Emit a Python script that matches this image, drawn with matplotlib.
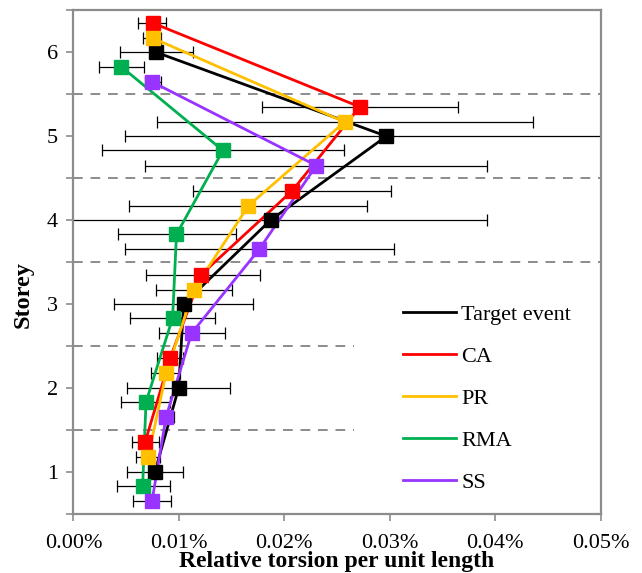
import matplotlib
matplotlib.use("Agg")
import matplotlib.pyplot as plt
from matplotlib.ticker import FuncFormatter, MultipleLocator

# Relative torsion per unit length (in %) per storey, with lower/upper bounds
storeys = [1, 2, 3, 4, 5, 6]
series_names = ["Target event", "CA", "PR", "RMA", "SS"]

target_mean = [0.00774, 0.00999, 0.01046, 0.01871, 0.02969, 0.00787]
target_low = [0.00505, 0.00508, 0.00382, -0.0008, 0.00491, 0.00443]
target_high = [0.01040, 0.01486, 0.01708, 0.03926, 0.0520, 0.01135]

ca_mean = [0.00680, 0.00917, 0.01213, 0.02076, 0.02716, 0.00753]
ca_low = [0.00553, 0.00790, 0.00692, 0.01132, 0.01789, 0.00613]
ca_high = [0.00812, 0.01037, 0.01766, 0.03016, 0.03647, 0.00879]

pr_mean = [0.00708, 0.00879, 0.01142, 0.01660, 0.02573, 0.00753]
pr_low = [0.00590, 0.00740, 0.00787, 0.00528, 0.00791, 0.00665]
pr_high = [0.00820, 0.01010, 0.01503, 0.02785, 0.04363, 0.00835]

rma_mean = [0.00657, 0.00689, 0.00941, 0.00978, 0.01418, 0.00453]
rma_low = [0.00411, 0.00452, 0.00539, 0.00423, 0.00269, 0.00242]
rma_high = [0.00917, 0.00917, 0.01340, 0.01544, 0.02566, 0.00668]

ss_mean = [0.00746, 0.00879, 0.01121, 0.01762, 0.02304, 0.00743]
ss_low = [0.00563, 0.00810, 0.00811, 0.00491, 0.00678, 0.00680]
ss_high = [0.00926, 0.00950, 0.01438, 0.03040, 0.03926, 0.00830]

x_ticks = [0.0, 0.01, 0.02, 0.03, 0.04, 0.05]

plt.rcParams["font.family"] = ["Liberation Serif", "DejaVu Serif"]

series = [
    ("Target event", target_mean, target_low, target_high, "#000000", 0.0),
    ("CA", ca_mean, ca_low, ca_high, "#FF0000", 0.35),
    ("PR", pr_mean, pr_low, pr_high, "#FFC000", 0.17),
    ("RMA", rma_mean, rma_low, rma_high, "#00B050", -0.17),
    ("SS", ss_mean, ss_low, ss_high, "#9933FF", -0.35),
]

fig = plt.figure(figsize=(6.42, 5.73), dpi=100)
ax = fig.add_axes([0.1143, 0.1038, 0.8211, 0.878])

spine_gray = "#8c8c8c"
grid_gray = "#8c8c8c"

# storey boundaries
for yb in [3.5, 4.5, 5.5]:
    ax.axhline(yb, color=grid_gray, lw=1.4, ls=(0, (5, 4)), zorder=1)
for yb in [1.5, 2.5]:
    ax.axhline(yb, xmax=0.532, color=grid_gray, lw=1.4, ls=(0, (5, 4)), zorder=1)

for name, mean, low, high, color, offset in series:
    ys = [s + offset for s in storeys]
    err_lo = [m - l for m, l in zip(mean, low)]
    err_hi = [h - m for m, h in zip(mean, high)]
    ax.errorbar(mean, ys, xerr=[err_lo, err_hi], fmt="none", ecolor="black",
                elinewidth=0.9, capsize=4, capthick=0.9, zorder=2)
    ax.plot(mean, ys, color=color, lw=2.0, zorder=3, label=name)
    ax.plot(mean, ys, ls="none", marker="s", ms=9.5, mfc=color, mec=color,
            zorder=4)

ax.set_xlim(0, 0.05)
ax.set_ylim(0.5, 6.5)
ax.set_xticks(x_ticks)
ax.xaxis.set_major_formatter(FuncFormatter(lambda v, p: f"{v:.2f}%"))
ax.yaxis.set_major_locator(MultipleLocator(1))
ax.yaxis.set_minor_locator(MultipleLocator(0.5))

for sp in ax.spines.values():
    sp.set_color(spine_gray)
    sp.set_linewidth(1.6)

ax.tick_params(axis="both", which="both", direction="out", color=spine_gray,
               width=1.2, length=5, labelsize=16)
ax.tick_params(axis="x", pad=9.5)
ax.tick_params(axis="y", pad=6)

ax.set_xlabel("Relative torsion per unit length", fontsize=17,
              fontweight="bold", labelpad=-1)
ax.set_ylabel("Storey", fontsize=17.5, fontweight="bold")
ax.yaxis.set_label_coords(-0.075, 0.436)

leg = ax.legend(loc="upper left", bbox_to_anchor=(0.609, 0.433), frameon=False,
                fontsize=16, handlelength=2.35, handletextpad=0.25,
                labelspacing=0.96, borderaxespad=0)

fig.savefig("out.png", dpi=100)
